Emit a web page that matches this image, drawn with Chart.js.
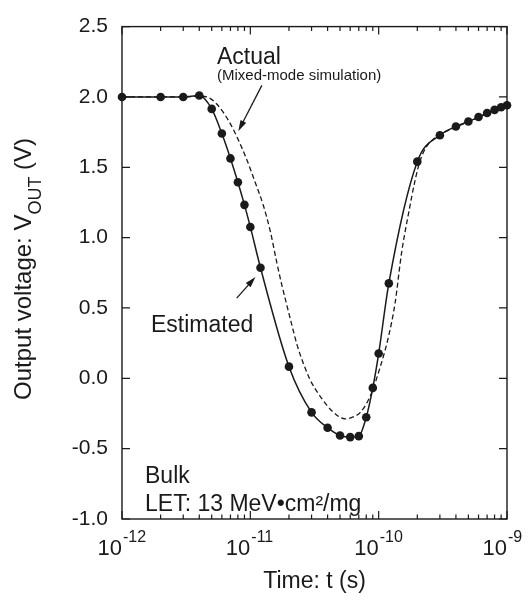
<!DOCTYPE html>
<html>
<head>
<meta charset="utf-8">
<script src="https://cdn.jsdelivr.net/npm/chart.js@4/dist/chart.umd.min.js"></script>
<style>
  body { margin: 0; background: #fff; }
</style>
</head>
<body>
<canvas id="chart" width="529" height="600"></canvas>
<script>
// --- Datos ---
// Estimated (linea solida con puntos)
const timeEst = [1e-12, 2e-12, 3e-12, 4e-12, 5e-12, 6e-12, 7e-12, 8e-12, 9e-12, 1e-11,
  1.2e-11, 2e-11, 3e-11, 4e-11, 5e-11, 6e-11, 7e-11, 8e-11, 9e-11, 1e-10,
  1.2e-10, 2e-10, 3e-10, 4e-10, 5e-10, 6e-10, 7e-10, 8e-10, 9e-10, 1e-9];
const voltEst = [2.00, 2.00, 2.00, 2.01, 1.915, 1.74, 1.563, 1.394, 1.233, 1.076,
  0.786, 0.083, -0.242, -0.351, -0.407, -0.418, -0.411, -0.277, -0.068, 0.176,
  0.675, 1.54, 1.728, 1.79, 1.825, 1.857, 1.886, 1.908, 1.927, 1.941];

// Actual (Mixed-mode simulation, linea discontinua)
const timeAct = [1e-12, 2e-12, 3e-12, 4e-12, 4.57e-12, 5.47e-12, 6.74e-12, 8.06e-12, 9.37e-12, 1.09e-11,
  1.26e-11, 1.43e-11, 1.61e-11, 1.76e-11, 1.92e-11, 2.1e-11, 2.3e-11, 2.59e-11, 2.92e-11, 3.49e-11,
  4.31e-11, 5.47e-11, 6.55e-11, 7.2e-11, 8.6e-11, 1.03e-10, 1.19e-10, 1.34e-10, 1.51e-10, 1.71e-10,
  1.92e-10, 2.1e-10, 2.37e-10, 2.84e-10, 4e-10, 6e-10, 8e-10, 1e-9];
const voltAct = [2.00, 2.00, 2.00, 2.005, 2.00, 1.95, 1.834, 1.695, 1.556, 1.394,
  1.232, 1.046, 0.82, 0.663, 0.524, 0.384, 0.245, 0.106, -0.01, -0.126,
  -0.23, -0.288, -0.268, -0.242, -0.126, 0.083, 0.292, 0.53, 0.895, 1.173,
  1.405, 1.545, 1.649, 1.718, 1.785, 1.855, 1.905, 1.94];

// Ejes
const xDecades = [-12, -11, -10, -9];
const yTickValues = [-1.0, -0.5, 0.0, 0.5, 1.0, 1.5, 2.0, 2.5];

const ink = '#1a1a1a';
const fontFam = '"Liberation Sans", Arial, Helvetica, sans-serif';

// -------------------- Plugin: marco, ticks hacia dentro y textos --------------------
const decor = {
  id: 'decor',
  beforeDatasetsDraw(chart) {
    const { ctx, chartArea: a, scales: { x, y } } = chart;
    ctx.save();
    ctx.strokeStyle = ink;
    ctx.lineWidth = 1.4;
    ctx.strokeRect(a.left, a.top, a.right - a.left, a.bottom - a.top);

    ctx.lineWidth = 1.2;
    ctx.beginPath();
    yTickValues.forEach(v => {
      const py = y.getPixelForValue(v);
      ctx.moveTo(a.left, py); ctx.lineTo(a.left + 8, py);
      ctx.moveTo(a.right, py); ctx.lineTo(a.right - 8, py);
    });
    xDecades.forEach((d, i) => {
      const px = x.getPixelForValue(Math.pow(10, d));
      ctx.moveTo(px, a.bottom); ctx.lineTo(px, a.bottom - 8);
      ctx.moveTo(px, a.top); ctx.lineTo(px, a.top + 8);
      if (i < xDecades.length - 1) {
        for (let m = 2; m <= 9; m++) {
          const pm = x.getPixelForValue(m * Math.pow(10, d));
          ctx.moveTo(pm, a.bottom); ctx.lineTo(pm, a.bottom - 4.5);
          ctx.moveTo(pm, a.top); ctx.lineTo(pm, a.top + 4.5);
        }
      }
    });
    ctx.stroke();
    ctx.restore();
  },
  afterDatasetsDraw(chart) {
    const { ctx, chartArea: a, scales: { x, y } } = chart;
    ctx.save();
    ctx.fillStyle = ink;
    ctx.strokeStyle = ink;

    // etiquetas del eje x: 10^n
    xDecades.forEach(d => {
      const px = x.getPixelForValue(Math.pow(10, d));
      ctx.font = '22px ' + fontFam;
      ctx.textAlign = 'right';
      ctx.textBaseline = 'alphabetic';
      ctx.fillText('10', px, a.bottom + 36);
      ctx.font = '16px ' + fontFam;
      ctx.textAlign = 'left';
      ctx.fillText(String(d), px + 1, a.bottom + 23);
    });

    // titulo eje x
    ctx.font = '23px ' + fontFam;
    ctx.textAlign = 'center';
    ctx.fillText('Time: t (s)', (a.left + a.right) / 2, a.bottom + 69);

    // titulo eje y con subindice
    ctx.save();
    ctx.translate(31, 400);
    ctx.rotate(-Math.PI / 2);
    ctx.textAlign = 'left';
    ctx.font = '24px ' + fontFam;
    const t1 = 'Output voltage: V';
    ctx.fillText(t1, 0, 0);
    let w = ctx.measureText(t1).width;
    ctx.font = '18px ' + fontFam;
    ctx.fillText('OUT', w, 10);
    w += ctx.measureText('OUT').width;
    ctx.font = '24px ' + fontFam;
    ctx.fillText(' (V)', w, 0);
    ctx.restore();

    // anotaciones
    ctx.textAlign = 'left';
    ctx.font = '23px ' + fontFam;
    ctx.fillText('Actual', a.left + 95, a.top + 37);
    ctx.font = '15px ' + fontFam;
    ctx.fillText('(Mixed-mode simulation)', a.left + 95, a.top + 53);
    ctx.font = '23px ' + fontFam;
    ctx.fillText('Estimated', a.left + 29, a.top + 305);
    ctx.fillText('Bulk', a.left + 23, a.top + 456);
    ctx.fillText('LET: 13 MeV\u2022cm\u00b2/mg', a.left + 23, a.top + 484);

    const arrow = (t0, v0, t1, v1) => {
      const x0 = x.getPixelForValue(t0), y0 = y.getPixelForValue(v0);
      const x1 = x.getPixelForValue(t1), y1 = y.getPixelForValue(v1);
      const ang = Math.atan2(y1 - y0, x1 - x0);
      const len = 11, half = 3.2;
      ctx.lineWidth = 1.3;
      ctx.beginPath();
      ctx.moveTo(x0, y0);
      ctx.lineTo(x1 - Math.cos(ang) * len * 0.8, y1 - Math.sin(ang) * len * 0.8);
      ctx.stroke();
      ctx.beginPath();
      ctx.moveTo(x1, y1);
      ctx.lineTo(x1 - Math.cos(ang) * len - Math.sin(ang) * half, y1 - Math.sin(ang) * len + Math.cos(ang) * half);
      ctx.lineTo(x1 - Math.cos(ang) * len + Math.sin(ang) * half, y1 - Math.sin(ang) * len - Math.cos(ang) * half);
      ctx.closePath();
      ctx.fill();
    };
    arrow(1.23e-11, 2.082, 8.06e-12, 1.757);
    arrow(7.83e-12, 0.57, 1.097e-11, 0.72);

    ctx.restore();
  }
};

// -------------------- Chart --------------------
const ctx = document.getElementById('chart').getContext('2d');
new Chart(ctx, {
  type: 'line',
  data: {
    datasets: [
      {
        label: 'Estimated',
        data: timeEst.map((t, i) => ({ x: t, y: voltEst[i] })),
        borderColor: ink,
        backgroundColor: ink,
        borderWidth: 1.5,
        pointRadius: 4.3,
        pointBackgroundColor: ink,
        pointBorderWidth: 0,
        cubicInterpolationMode: 'monotone',
        clip: false,
        order: 0
      },
      {
        label: 'Actual',
        data: timeAct.map((t, i) => ({ x: t, y: voltAct[i] })),
        borderColor: ink,
        borderWidth: 1.3,
        borderDash: [5, 3],
        pointRadius: 0,
        cubicInterpolationMode: 'monotone',
        clip: false,
        order: 1
      }
    ]
  },
  options: {
    responsive: false,
    animation: false,
    devicePixelRatio: 1,
    layout: { padding: { left: 0, right: 22, top: 16, bottom: 0 } },
    plugins: { legend: { display: false }, tooltip: { enabled: false } },
    scales: {
      x: {
        type: 'logarithmic',
        min: 1e-12,
        max: 1e-9,
        grid: { display: false, drawTicks: false },
        border: { display: false },
        ticks: { display: false },
        afterFit: s => { s.height = 81; }
      },
      y: {
        min: -1.0,
        max: 2.5,
        grid: { display: false, drawTicks: false },
        border: { display: false },
        ticks: {
          stepSize: 0.5,
          padding: 14,
          color: ink,
          font: { family: fontFam, size: 21 },
          callback: v => Number(v).toFixed(1)
        },
        afterFit: s => { s.width = 122; }
      }
    }
  },
  plugins: [decor]
});
</script>
</body>
</html>
